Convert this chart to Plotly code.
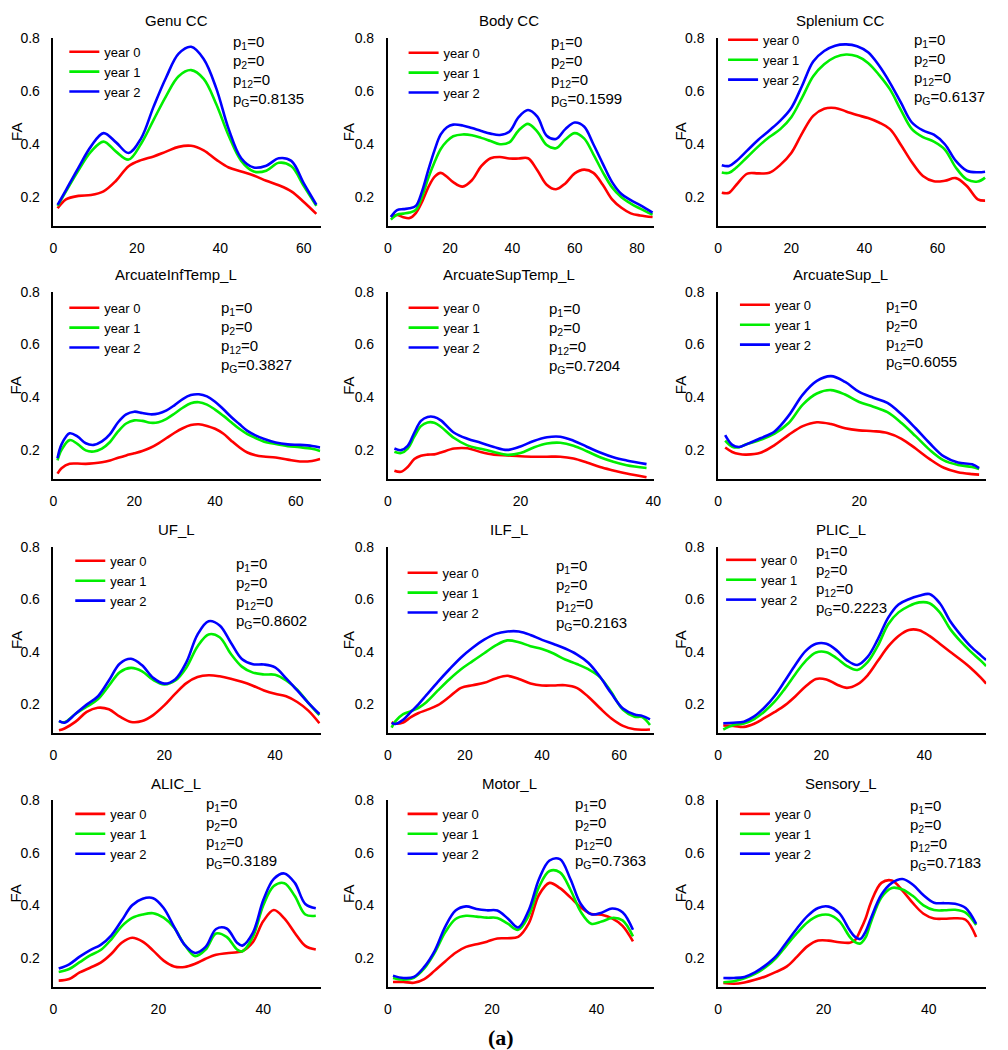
import plotly.graph_objects as go

# ---------------- data ----------------
titles = ["Genu CC", "Body CC", "Splenium CC", "ArcuateInfTemp_L", "ArcuateSupTemp_L",
          "ArcuateSup_L", "UF_L", "ILF_L", "PLIC_L", "ALIC_L", "Motor_L", "Sensory_L"]
series_names = ["year 0", "year 1", "year 2"]
p1_vals = ["0"] * 12
p2_vals = ["0"] * 12
p12_vals = ["0"] * 12
pG_vals = ["0.8135", "0.1599", "0.6137", "0.3827", "0.7204", "0.6055",
           "0.8602", "0.2163", "0.2223", "0.3189", "0.7363", "0.7183"]
x_tick_vals = [0, 20, 40, 60, 80]
y_tick_vals = [0.2, 0.4, 0.6, 0.8]

genu_x = [1, 3, 6, 9, 12, 15, 18, 21, 24, 27, 30, 33, 36, 39, 42, 45, 48, 51, 54, 57, 60, 63]
genu_y0 = [0.156, 0.19, 0.203, 0.206, 0.22, 0.26, 0.315, 0.338, 0.352, 0.37, 0.388, 0.392, 0.375, 0.34, 0.31, 0.295, 0.28, 0.26, 0.243, 0.22, 0.18, 0.135]
genu_y1 = [0.165, 0.22, 0.30, 0.37, 0.408, 0.37, 0.34, 0.40, 0.49, 0.58, 0.655, 0.678, 0.645, 0.55, 0.43, 0.335, 0.295, 0.298, 0.328, 0.315, 0.24, 0.165]
genu_y2 = [0.169, 0.225, 0.31, 0.39, 0.44, 0.405, 0.365, 0.42, 0.54, 0.65, 0.74, 0.766, 0.72, 0.61, 0.455, 0.345, 0.31, 0.317, 0.345, 0.335, 0.25, 0.17]

body_x = [1, 3, 5, 7, 9, 11, 13, 15, 17, 19, 21, 24, 27, 30, 33, 36, 39, 42, 45, 48, 51, 54, 57, 60, 63, 66, 69, 72, 75, 78, 81, 85]
body_y0 = [0.125, 0.131, 0.122, 0.119, 0.138, 0.18, 0.235, 0.275, 0.29, 0.275, 0.255, 0.238, 0.262, 0.315, 0.345, 0.35, 0.344, 0.344, 0.345, 0.3, 0.245, 0.228, 0.25, 0.288, 0.302, 0.29, 0.245, 0.19, 0.158, 0.137, 0.129, 0.123]
body_y1 = [0.113, 0.132, 0.136, 0.14, 0.15, 0.2, 0.27, 0.33, 0.38, 0.41, 0.428, 0.435, 0.432, 0.422, 0.41, 0.398, 0.405, 0.45, 0.475, 0.446, 0.395, 0.383, 0.416, 0.44, 0.42, 0.36, 0.293, 0.235, 0.198, 0.174, 0.155, 0.132]
body_y2 = [0.123, 0.149, 0.153, 0.156, 0.165, 0.22, 0.3, 0.375, 0.435, 0.462, 0.472, 0.469, 0.459, 0.448, 0.438, 0.433, 0.445, 0.5, 0.527, 0.502, 0.43, 0.418, 0.455, 0.48, 0.465, 0.398, 0.325, 0.255, 0.21, 0.187, 0.168, 0.14]

splen_x = [1, 3, 5, 8, 11, 14, 17, 20, 23, 26, 29, 32, 35, 38, 41, 44, 47, 50, 53, 56, 59, 62, 65, 68, 71, 73]
splen_y0 = [0.215, 0.215, 0.245, 0.287, 0.288, 0.29, 0.32, 0.365, 0.44, 0.505, 0.532, 0.535, 0.522, 0.508, 0.497, 0.48, 0.455, 0.395, 0.33, 0.278, 0.258, 0.26, 0.27, 0.24, 0.19, 0.185]
splen_y1 = [0.291, 0.29, 0.31, 0.35, 0.39, 0.425, 0.455, 0.5, 0.575, 0.655, 0.7, 0.727, 0.737, 0.73, 0.705, 0.66, 0.605, 0.527, 0.455, 0.425, 0.408, 0.378, 0.31, 0.265, 0.257, 0.272]
splen_y2 = [0.319, 0.316, 0.335, 0.375, 0.415, 0.45, 0.487, 0.535, 0.62, 0.71, 0.75, 0.77, 0.775, 0.768, 0.745, 0.695, 0.63, 0.555, 0.48, 0.45, 0.434, 0.398, 0.335, 0.298, 0.292, 0.294]

ait_x = [1, 2, 4, 6, 8, 10, 12, 14, 16, 18, 20, 22, 24, 26, 28, 30, 32, 34, 36, 38, 40, 42, 44, 46, 48, 50, 52, 55, 58, 61, 64, 66]
ait_y0 = [0.11, 0.13, 0.147, 0.148, 0.147, 0.149, 0.153, 0.16, 0.17, 0.179, 0.187, 0.196, 0.208, 0.225, 0.245, 0.265, 0.282, 0.294, 0.297, 0.291, 0.28, 0.262, 0.235, 0.21, 0.19, 0.18, 0.175, 0.171, 0.163, 0.156, 0.158, 0.165]
ait_y1 = [0.16, 0.2, 0.237, 0.222, 0.198, 0.194, 0.205, 0.23, 0.27, 0.3, 0.312, 0.31, 0.303, 0.305, 0.318, 0.338, 0.36, 0.377, 0.381, 0.372, 0.353, 0.33, 0.305, 0.28, 0.26, 0.245, 0.232, 0.222, 0.214, 0.21, 0.204, 0.196]
ait_y2 = [0.168, 0.221, 0.263, 0.25, 0.225, 0.219, 0.232, 0.26, 0.305, 0.335, 0.345, 0.34, 0.335, 0.338, 0.35, 0.37, 0.393, 0.408, 0.411, 0.403, 0.383, 0.355, 0.325, 0.298, 0.272, 0.255, 0.242, 0.228, 0.221, 0.219, 0.215, 0.209]

ast_x = [1, 2, 3, 4, 5, 6, 7, 8, 10, 12, 14, 16, 18, 20, 22, 24, 26, 28, 30, 32, 34, 36, 39]
ast_y0 = [0.121, 0.117, 0.135, 0.165, 0.178, 0.182, 0.183, 0.19, 0.205, 0.206, 0.192, 0.182, 0.179, 0.176, 0.174, 0.174, 0.174, 0.167, 0.152, 0.135, 0.122, 0.11, 0.096]
ast_y1 = [0.193, 0.188, 0.205, 0.25, 0.29, 0.304, 0.303, 0.288, 0.245, 0.217, 0.204, 0.192, 0.181, 0.188, 0.209, 0.224, 0.227, 0.216, 0.195, 0.172, 0.155, 0.142, 0.131]
ast_y2 = [0.205, 0.199, 0.215, 0.265, 0.31, 0.325, 0.325, 0.312, 0.265, 0.242, 0.227, 0.211, 0.2, 0.213, 0.234, 0.248, 0.25, 0.235, 0.212, 0.19, 0.172, 0.16, 0.146]

as_x = [1, 2, 3, 4, 6, 8, 10, 12, 14, 16, 18, 20, 22, 24, 26, 28, 30, 32, 34, 36, 37]
as_y0 = [0.209, 0.192, 0.184, 0.182, 0.189, 0.218, 0.257, 0.29, 0.305, 0.298, 0.282, 0.274, 0.271, 0.264, 0.242, 0.205, 0.165, 0.132, 0.115, 0.108, 0.106]
as_y1 = [0.235, 0.212, 0.21, 0.221, 0.238, 0.262, 0.302, 0.372, 0.414, 0.427, 0.41, 0.382, 0.364, 0.343, 0.302, 0.252, 0.2, 0.16, 0.143, 0.135, 0.127]
as_y2 = [0.256, 0.219, 0.211, 0.221, 0.244, 0.27, 0.33, 0.41, 0.462, 0.48, 0.458, 0.42, 0.398, 0.378, 0.335, 0.282, 0.225, 0.175, 0.152, 0.145, 0.131]

uf_x = [1, 2, 4, 6, 8, 10, 12, 14, 16, 18, 20, 22, 24, 26, 28, 30, 32, 34, 36, 38, 40, 42, 44, 46, 48]
uf_y0 = [0.1, 0.107, 0.133, 0.17, 0.186, 0.18, 0.152, 0.132, 0.135, 0.158, 0.195, 0.24, 0.28, 0.303, 0.31, 0.306, 0.297, 0.285, 0.27, 0.252, 0.239, 0.23, 0.208, 0.175, 0.127]
uf_y1 = [0.134, 0.131, 0.163, 0.19, 0.218, 0.27, 0.322, 0.338, 0.325, 0.292, 0.275, 0.29, 0.34, 0.42, 0.466, 0.455, 0.392, 0.343, 0.32, 0.313, 0.312, 0.29, 0.255, 0.205, 0.158]
uf_y2 = [0.136, 0.129, 0.163, 0.198, 0.229, 0.29, 0.355, 0.373, 0.348, 0.3, 0.278, 0.295, 0.36, 0.465, 0.516, 0.5, 0.435, 0.372, 0.352, 0.351, 0.34, 0.298, 0.252, 0.205, 0.162]

ilf_x = [1, 2, 4, 6, 8, 10, 13, 16, 19, 22, 25, 28, 31, 34, 37, 40, 43, 46, 49, 52, 55, 58, 61, 64, 66, 68]
ilf_y0 = [0.131, 0.125, 0.13, 0.15, 0.166, 0.177, 0.196, 0.228, 0.262, 0.272, 0.281, 0.298, 0.308, 0.296, 0.279, 0.271, 0.271, 0.272, 0.262, 0.228, 0.185, 0.145, 0.117, 0.104, 0.102, 0.103]
ilf_y1 = [0.11, 0.135, 0.162, 0.173, 0.186, 0.207, 0.252, 0.295, 0.333, 0.364, 0.394, 0.424, 0.443, 0.436, 0.421, 0.41, 0.393, 0.37, 0.353, 0.333, 0.303, 0.245, 0.178, 0.152, 0.15, 0.12]
ilf_y2 = [0.128, 0.124, 0.14, 0.17, 0.2, 0.234, 0.285, 0.333, 0.378, 0.415, 0.446, 0.468, 0.477, 0.477, 0.464, 0.445, 0.429, 0.412, 0.39, 0.358, 0.305, 0.24, 0.183, 0.16, 0.155, 0.142]

plic_x = [1, 3, 5, 7, 9, 11, 13, 15, 17, 19, 21, 23, 25, 27, 29, 31, 33, 35, 37, 39, 41, 43, 45, 47, 49, 51, 52]
plic_y0 = [0.118, 0.117, 0.113, 0.125, 0.147, 0.17, 0.196, 0.23, 0.268, 0.296, 0.294, 0.275, 0.262, 0.275, 0.31, 0.365, 0.42, 0.46, 0.483, 0.482, 0.46, 0.43, 0.4, 0.37, 0.338, 0.3, 0.278]
plic_y1 = [0.103, 0.12, 0.126, 0.143, 0.172, 0.21, 0.26, 0.315, 0.365, 0.397, 0.398, 0.375, 0.345, 0.33, 0.36, 0.423, 0.505, 0.55, 0.574, 0.588, 0.585, 0.55, 0.487, 0.44, 0.4, 0.365, 0.345]
plic_y2 = [0.127, 0.129, 0.133, 0.153, 0.187, 0.232, 0.29, 0.35, 0.403, 0.43, 0.43, 0.405, 0.367, 0.349, 0.38, 0.448, 0.53, 0.58, 0.6, 0.613, 0.62, 0.585, 0.517, 0.465, 0.42, 0.385, 0.368]

alic_x = [1, 3, 5, 7, 9, 11, 13, 15, 17, 19, 21, 23, 25, 27, 29, 31, 33, 35, 36, 38, 40, 42, 44, 46, 48, 50]
alic_y0 = [0.114, 0.12, 0.145, 0.163, 0.182, 0.215, 0.258, 0.277, 0.262, 0.228, 0.19, 0.168, 0.166, 0.178, 0.197, 0.212, 0.218, 0.222, 0.226, 0.26, 0.34, 0.382, 0.35, 0.295, 0.246, 0.232]
alic_y1 = [0.147, 0.158, 0.184, 0.21, 0.23, 0.27, 0.32, 0.352, 0.365, 0.37, 0.353, 0.315, 0.25, 0.207, 0.232, 0.293, 0.28, 0.232, 0.225, 0.28, 0.4, 0.473, 0.484, 0.435, 0.365, 0.36]
alic_y2 = [0.16, 0.176, 0.205, 0.23, 0.25, 0.285, 0.342, 0.4, 0.425, 0.427, 0.39, 0.318, 0.25, 0.219, 0.242, 0.31, 0.312, 0.258, 0.247, 0.295, 0.42, 0.5, 0.521, 0.485, 0.405, 0.389]

motor_x = [1, 3, 5, 7, 9, 11, 13, 15, 17, 19, 21, 23, 25, 27, 29, 31, 33, 35, 37, 39, 41, 43, 45, 47]
motor_y0 = [0.109, 0.109, 0.106, 0.12, 0.152, 0.187, 0.22, 0.242, 0.252, 0.262, 0.274, 0.275, 0.28, 0.33, 0.44, 0.485, 0.465, 0.43, 0.392, 0.367, 0.364, 0.35, 0.322, 0.263]
motor_y1 = [0.124, 0.118, 0.125, 0.16, 0.22, 0.297, 0.348, 0.36, 0.357, 0.353, 0.352, 0.33, 0.307, 0.36, 0.47, 0.53, 0.525, 0.46, 0.375, 0.33, 0.338, 0.352, 0.343, 0.282]
motor_y2 = [0.133, 0.124, 0.128, 0.166, 0.227, 0.318, 0.38, 0.396, 0.386, 0.381, 0.38, 0.35, 0.316, 0.38, 0.5, 0.57, 0.575, 0.5, 0.405, 0.366, 0.372, 0.388, 0.374, 0.307]

sens_x = [1, 3, 5, 7, 9, 11, 13, 15, 17, 19, 21, 23, 25, 26, 27, 28, 29, 31, 33, 35, 37, 39, 41, 43, 45, 47, 49]
sens_y0 = [0.105, 0.102, 0.107, 0.117, 0.13, 0.147, 0.167, 0.205, 0.245, 0.266, 0.266, 0.26, 0.258, 0.268, 0.305, 0.35, 0.41, 0.485, 0.494, 0.456, 0.408, 0.368, 0.35, 0.349, 0.351, 0.345, 0.28]
sens_y1 = [0.108, 0.112, 0.123, 0.14, 0.165, 0.2, 0.248, 0.295, 0.336, 0.36, 0.364, 0.34, 0.28, 0.26, 0.255, 0.278, 0.335, 0.43, 0.466, 0.46, 0.435, 0.4, 0.382, 0.381, 0.383, 0.372, 0.325]
sens_y2 = [0.124, 0.124, 0.128, 0.145, 0.172, 0.207, 0.26, 0.313, 0.36, 0.39, 0.395, 0.37, 0.305, 0.28, 0.272, 0.3, 0.35, 0.44, 0.485, 0.5, 0.478, 0.438, 0.41, 0.408, 0.406, 0.39, 0.33]

panel_x = [genu_x, body_x, splen_x, ait_x, ast_x, as_x, uf_x, ilf_x, plic_x, alic_x, motor_x, sens_x]
panel_y = [
    [genu_y0, genu_y1, genu_y2], [body_y0, body_y1, body_y2], [splen_y0, splen_y1, splen_y2],
    [ait_y0, ait_y1, ait_y2], [ast_y0, ast_y1, ast_y2], [as_y0, as_y1, as_y2],
    [uf_y0, uf_y1, uf_y2], [ilf_y0, ilf_y1, ilf_y2], [plic_y0, plic_y1, plic_y2],
    [alic_y0, alic_y1, alic_y2], [motor_y0, motor_y1, motor_y2], [sens_y0, sens_y1, sens_y2],
]

# ---------------- layout / style ----------------
W, H = 1008, 1050
FONT = "Liberation Sans, Arial, sans-serif"
colors = ["#ff0000", "#00ee00", "#0000ff"]
x_max = [64, 85.4, 73.3, 66.1, 40.1, 38, 48.2, 69, 52, 50.9, 51, 50.9]
col_px = [(50, 320), (388, 657), (722, 993)]
row_px = [(30, 220), (286, 475), (543, 731), (798, 987)]
title_px = [174, 511, 846]
fa_px = [12, 348, 684]
# legend: (line-left x, first-row centre y); p-text: (left x, first line centre y)
legend_px = [(61, 44), (404, 45), (727, 32), (61, 302), (404, 302), (739, 299),
             (67, 557), (403, 569), (725, 556), (67, 812), (403, 812), (739, 812)]
ptext_px = [(229, 35), (551, 35), (918, 33), (217, 303), (549, 304), (890, 300),
            (233, 561), (556, 563), (819, 548), (202, 803), (575, 803), (914, 805)]
P_STEP = 19


def px_x(px):
    return px / W


def px_y(py):
    return 1 - py / H


fig = go.Figure()
annotations = []
layout_extra = {}

for i in range(12):
    r, c = divmod(i, 3)
    n = "" if i == 0 else str(i + 1)
    leg = "legend" if i == 0 else f"legend{i + 1}"
    for k in range(3):
        fig.add_trace(go.Scatter(
            x=panel_x[i], y=panel_y[i][k], mode="lines", name=series_names[k],
            line=dict(color=colors[k], width=2.6, shape="spline", smoothing=1.0),
            xaxis="x" + n, yaxis="y" + n, legend=leg, showlegend=True,
            hoverinfo="skip",
        ))
    x0, x1 = col_px[c]
    y0, y1 = row_px[r]
    layout_extra["xaxis" + n] = dict(
        domain=[px_x(x0), px_x(x1)], range=[0, x_max[i]], anchor="y" + n,
        tickvals=[v for v in x_tick_vals if v <= x_max[i]],
        showgrid=False, zeroline=False, showline=True, linecolor="black", linewidth=1.6,
        ticks="", tickfont=dict(family=FONT, size=14, color="black"), ticklabelstandoff=8,
    )
    layout_extra["yaxis" + n] = dict(
        domain=[px_y(y1), px_y(y0)], range=[0.088, 0.8], anchor="x" + n,
        tickvals=y_tick_vals, ticktext=[f"{v:.1f}" for v in y_tick_vals],
        showgrid=False, zeroline=False, showline=True, linecolor="black", linewidth=1.6,
        ticks="", tickfont=dict(family=FONT, size=14, color="black"), ticklabelstandoff=9,
    )
    lx, ly = legend_px[i]
    layout_extra[leg] = dict(
        x=px_x(lx), y=px_y(ly - 15), xanchor="left", yanchor="top",
        bgcolor="rgba(0,0,0,0)", borderwidth=0, tracegroupgap=0,
        font=dict(family=FONT, size=13, color="black"), itemclick=False,
    )
    # title
    annotations.append(dict(
        text=titles[i], x=px_x(title_px[c]), y=px_y(y0 - 17), xref="paper", yref="paper",
        xanchor="center", yanchor="middle", showarrow=False,
        font=dict(family=FONT, size=15, color="black"),
    ))
    # FA label
    annotations.append(dict(
        text="FA", x=px_x(fa_px[c]), y=px_y((y0 + y1) / 2), xref="paper", yref="paper",
        xanchor="center", yanchor="middle", showarrow=False, textangle=-90,
        font=dict(family=FONT, size=15, color="black"),
    ))
    # p-values
    tx, ty = ptext_px[i]
    plines = [f"p<sub>1</sub>={p1_vals[i]}", f"p<sub>2</sub>={p2_vals[i]}",
              f"p<sub>12</sub>={p12_vals[i]}", f"p<sub>G</sub>={pG_vals[i]}"]
    for k, t in enumerate(plines):
        annotations.append(dict(
            text=t, x=px_x(tx), y=px_y(ty + k * P_STEP), xref="paper", yref="paper",
            xanchor="left", yanchor="middle", showarrow=False,
            font=dict(family=FONT, size=15, color="black"),
        ))

annotations.append(dict(
    text="<b>(a)</b>", x=px_x(502), y=px_y(1037), xref="paper", yref="paper",
    xanchor="center", yanchor="middle", showarrow=False,
    font=dict(family="Liberation Serif, Times New Roman, serif", size=22, color="black"),
))

fig.update_layout(
    width=W, height=H, margin=dict(l=0, r=0, t=0, b=0),
    paper_bgcolor="white", plot_bgcolor="white",
    annotations=annotations, **layout_extra,
)

fig.write_html(
    "out.html",
    config={"displayModeBar": False},
    post_script=(
        "document.documentElement.style.margin='0';"
        "document.body.style.margin='0';document.body.style.overflow='hidden';"
        "var d=document.getElementById('{plot_id}');"
        "d.style.position='fixed';d.style.left='0px';d.style.top='0px';"
    ),
)
